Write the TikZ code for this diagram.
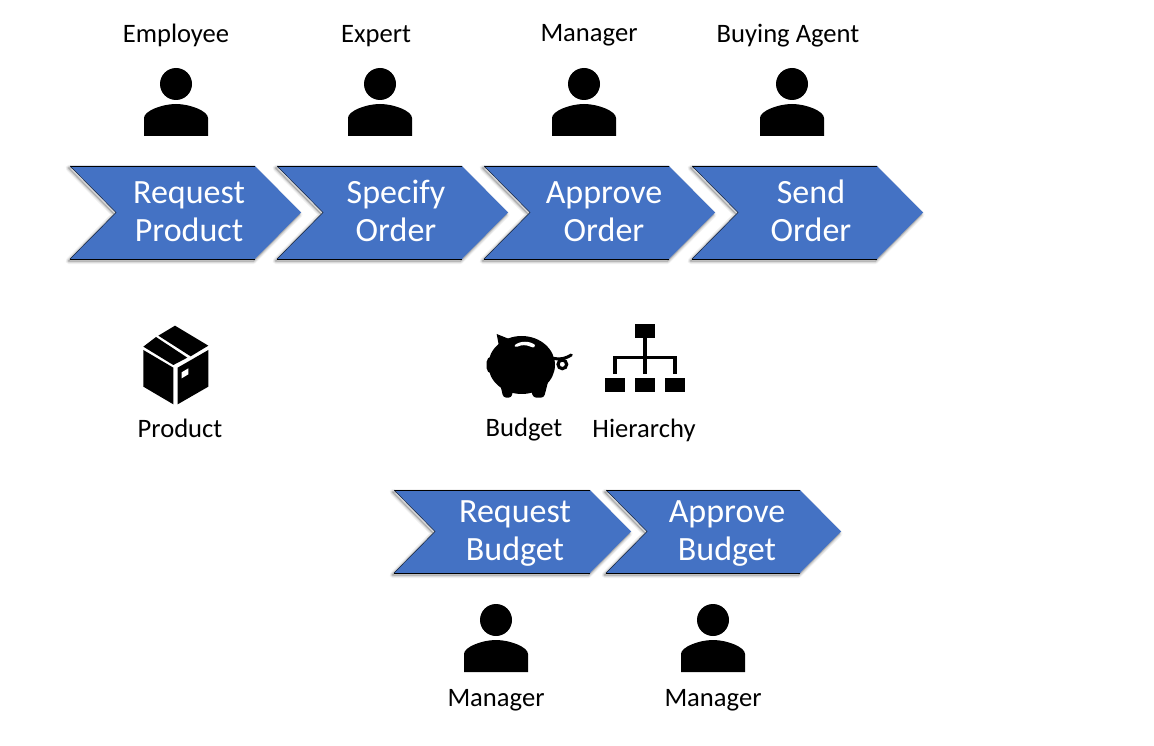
\documentclass[tikz,border=0pt]{standalone}
\usepackage{fontspec}
\setmainfont{Carlito}
\definecolor{chevblue}{HTML}{4472C4}
\tikzset{
  x=1pt,y=-1pt,
  steplabel/.style={text=white,font=\fontsize{34}{38}\selectfont,align=center,inner sep=0pt},
  caption/.style={text=black,font=\fontsize{26.6}{30}\selectfont,inner sep=0pt,text height=18pt,text depth=6pt},
  icon/.style={fill=black,draw=none},
  pics/person/.style={code={
    \fill[black] (0,-52) circle (16);
    \fill[black] (-32,0) -- (-32,-18) .. controls (-32,-25) and (-14,-32) .. (0,-32)
       .. controls (14,-32) and (32,-25) .. (32,-18) -- (32,0) -- cycle;
  }},
}
% #1 name, #2 left x, #3 top y, #4 width, #5 height, #6 point depth, #7 text x, #8 text y, #9 the two lines
\newcommand{\chevronbox}[9]{%
  \def\chevpath{(#2,#3) -- ({#2+#4-#6},#3) -- ({#2+#4},{#3+#5/2}) -- ({#2+#4-#6},{#3+#5}) -- (#2,{#3+#5}) -- ({#2+#6},{#3+#5/2}) -- cycle}
  \begin{scope}[shift={(-1.5,2)}]
  \foreach \w/\o in {6/.05,4/.08,2/.12,.5/.16}{
    \draw[black,opacity=\o,line width=\w pt,line join=round] \chevpath;
  }
  \end{scope}
  \fill[chevblue] \chevpath;
  \draw[black,line width=.8pt] (#2,#3) -- ({#2+#4-#6},#3) (#2,{#3+#5}) -- ({#2+#4-#6},{#3+#5});
  \draw[black!70!chevblue,line width=.5pt] (#2,#3) -- ({#2+#6},{#3+#5/2}) -- (#2,{#3+#5});
  \node[steplabel] (#1) at (#7,#8) {\rule{0pt}{23pt}#9\rule[-4pt]{0pt}{4pt}};
}
\begin{document}
\begin{tikzpicture}
\useasboundingbox (0,0) rectangle (1154,746);
\fill[white] (0,0) rectangle (1154,746);

\node[caption] (lemployee) at (176,37) {Employee};
\node[caption] (lexpert) at (376,37) {Expert};
\node[caption] (lmanager) at (589,36) {Manager};
\node[caption] (lbuying) at (788,37) {Buying Agent};

\pic at (176,136) {person};
\pic at (380,136) {person};
\pic at (584,136) {person};
\pic at (792,136) {person};

\chevronbox{request}{70}{166}{231}{93}{46}{189}{212.5}{Request\\Product}
\chevronbox{specify}{277}{166}{231}{93}{46}{396}{212.5}{Specify\\Order}
\chevronbox{approve}{484}{166}{231}{93}{46}{604}{212.5}{Approve\\Order}
\chevronbox{send}{692}{166}{231}{93}{46}{811}{212.5}{Send\\Order}

% product box
\begin{scope}[shift={(130,315)},x=.3333pt,y=-.3333pt]
  \fill[black] (135,32) -- (235,92) -- (182,124) -- (85,62) -- cycle;
  \fill[black] (78,66) -- (172,128) -- (130,150) -- (40,95) -- cycle;
  \fill[black] (40,105) -- (130,158) -- (130,268) -- (40,215) -- cycle;
  \fill[black] (143,158) -- (235,105) -- (235,215) -- (143,268) -- cycle;
  \fill[white] (155,172) -- (175,160) -- (175,178) -- (155,190) -- cycle;
\end{scope}
\node[caption] (lproduct) at (180,431) {Product};

% piggy bank
\begin{scope}[shift={(480,310)},x=.3333pt,y=-.3333pt]
  \fill[black] (125,165) ellipse [x radius=100,y radius=87];
  \fill[black] (50,72) -- (100,92) -- (60,125) -- cycle;
  \fill[black,rounded corners=5pt] (20,140) rectangle (60,190);
  \fill[black,rounded corners=3pt] (55,200) -- (100,230) -- (95,263) -- (70,263) -- cycle;
  \fill[black,rounded corners=3pt] (150,230) -- (208,200) -- (192,263) -- (160,263) -- cycle;
  \fill[white] (105,105) .. controls (120,92) and (150,92) .. (165,105)
    .. controls (168,112) and (160,114) .. (152,110)
    .. controls (138,104) and (125,104) .. (112,110)
    .. controls (105,112) and (102,110) .. (105,105) -- cycle;
  \draw[black,line width=3pt,line cap=round] (220,145) .. controls (240,150) and (258,145) .. (274,135);
  \draw[black,line width=3.2pt] (247,163) circle (13);
\end{scope}
\node[caption] (lbudget) at (524,430) {Budget};

% hierarchy
\fill[icon] (635,324) rectangle (655,338);
\fill[icon] (605,378) rectangle (625,392);
\fill[icon] (635,378) rectangle (655,392);
\fill[icon] (665,378) rectangle (685,392);
\draw[black,line width=3.4pt] (645,338) -- (645,373.5);
\draw[black,line width=3.4pt] (615,373.5) -- (615,357.5) -- (675,357.5) -- (675,373.5);
\node[caption] (lhierarchy) at (644,431) {Hierarchy};

\chevronbox{reqbudget}{394}{490}{237}{83}{41}{515}{533}{Request\\Budget}
\chevronbox{appbudget}{606}{490}{235}{83}{41}{727}{533}{Approve\\Budget}

\pic at (496,672) {person};
\pic at (713,672) {person};
\node[caption] (lmgr1) at (496,700) {Manager};
\node[caption] (lmgr2) at (713,700) {Manager};
\end{tikzpicture}
\end{document}
